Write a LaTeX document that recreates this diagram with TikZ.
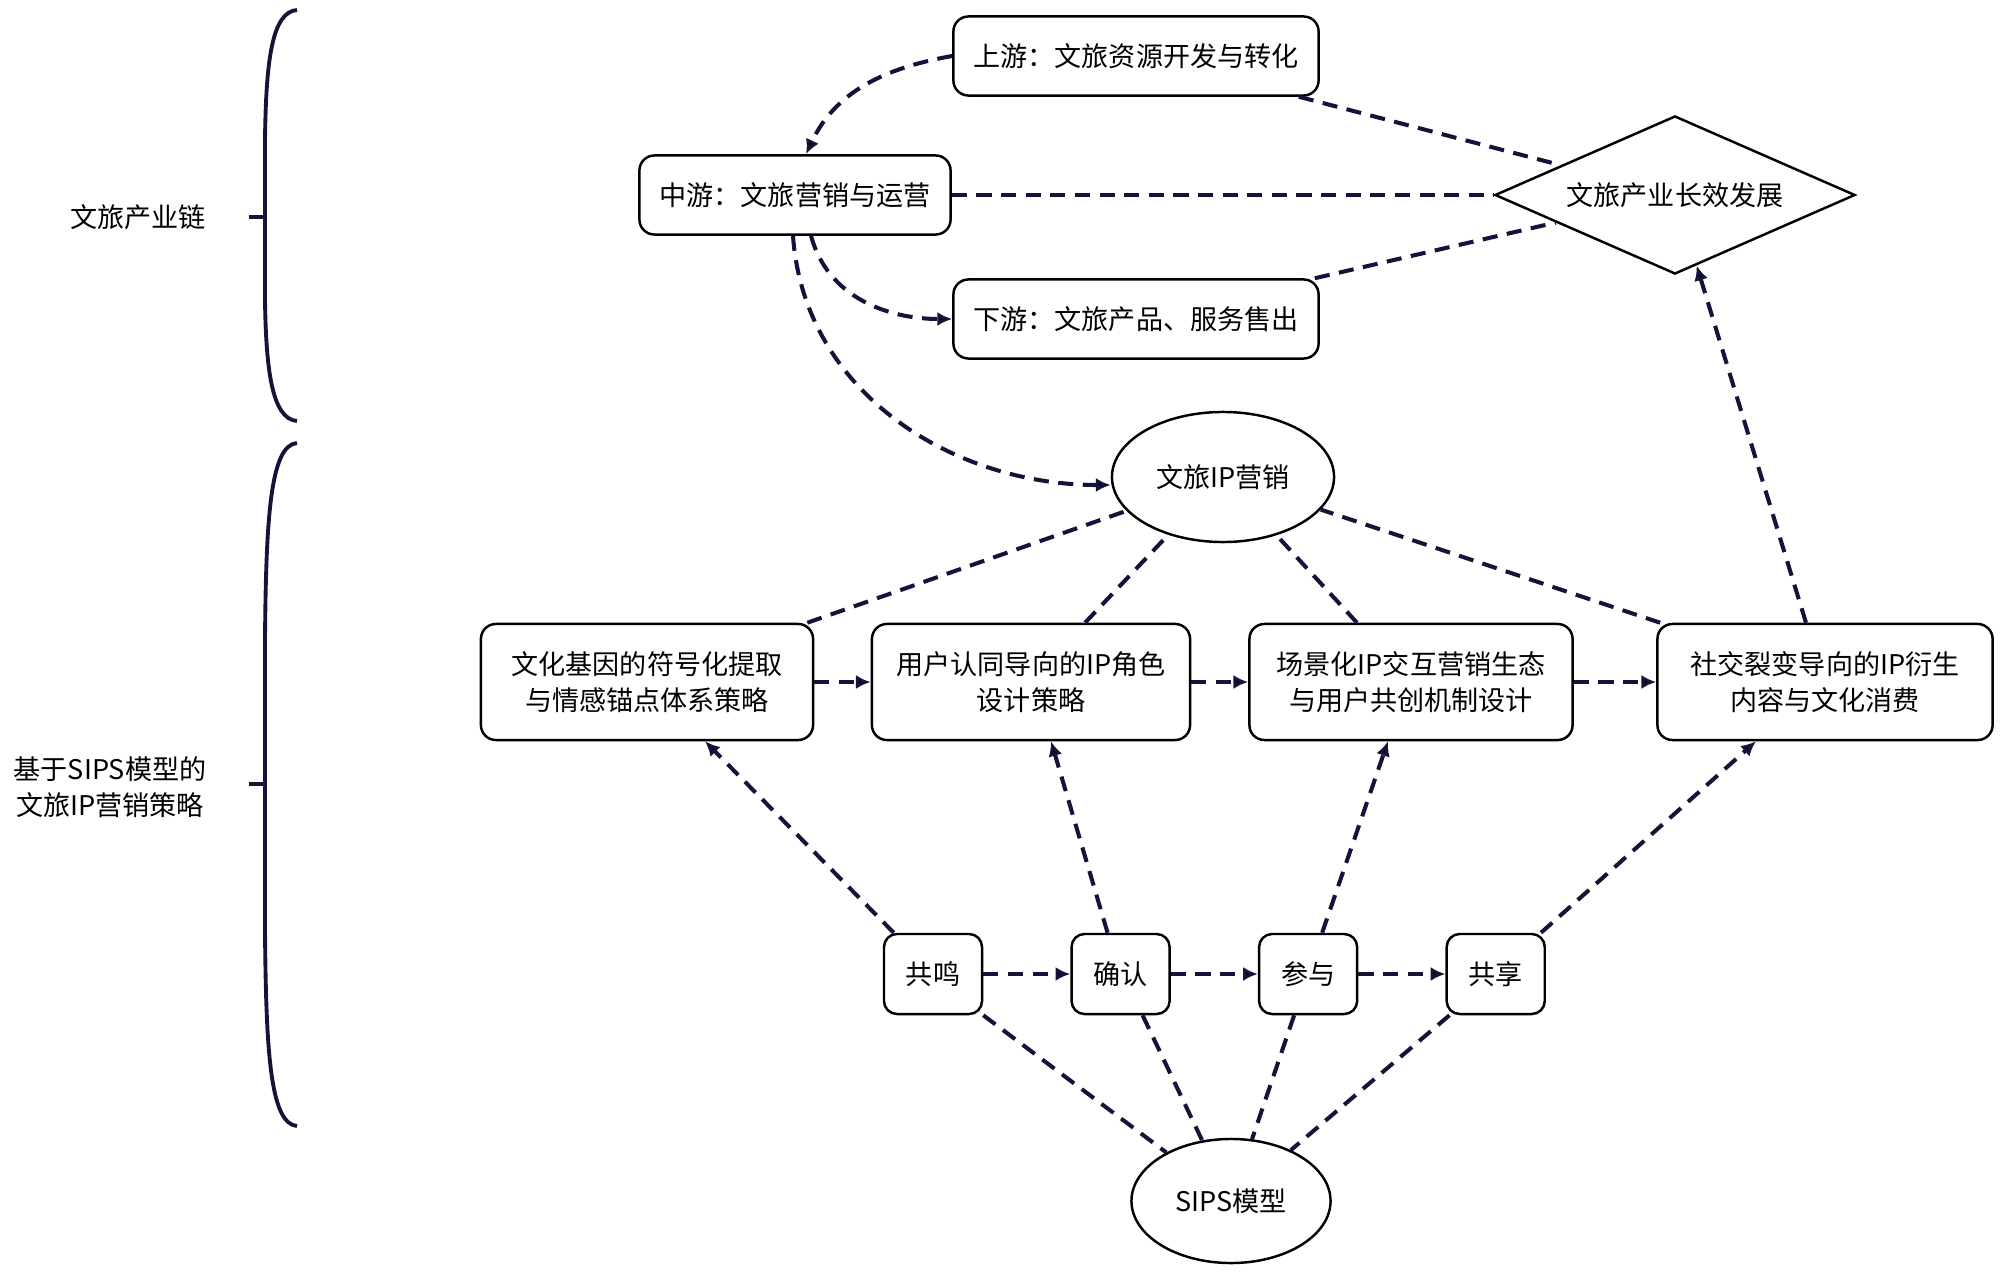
\documentclass[tikz,border=0pt]{standalone}
\usepackage{fontspec}
\setmainfont{Noto Sans CJK SC}
\usepackage{tikz}
\usetikzlibrary{positioning,shapes.geometric,arrows.meta}
\definecolor{navy}{HTML}{14143A}
\tikzset{box node/.style={rectangle, rounded corners=0.15cm, draw=black, line width=0.7pt, align=center, inner sep=2pt},
  chain step/.style={box node, minimum height=0.79cm},
  strategy node/.style={box node, minimum width=3.3cm, minimum height=1.16cm},
  stage node/.style={box node, minimum width=0.98cm, minimum height=0.8cm, rounded corners=0.13cm},
  round node/.style={ellipse, draw=black, line width=0.7pt, inner sep=1pt},
  goal node/.style={diamond, draw=black, line width=0.7pt, shape aspect=2.28, minimum width=3.6cm, minimum height=1.58cm, inner sep=0pt},
  link/.style={draw=navy, line width=1.15pt, dash pattern=on 4.3pt off 2.7pt},
  arr/.style={-{Latex[length=4.2pt,width=4pt]}},
  brace line/.style={draw=navy, line width=1.1pt},}

\begin{document}
\begin{tikzpicture}[x=0.01cm, y=0.01cm, font=\fontsize{7.7pt}{10.2pt}\selectfont]
        \useasboundingbox (0,0) rectangle (2000,-1276);
        % Braces
        \draw[brace line] (297,-10) .. controls (272,-12) and (266,-60) .. (265,-140) -- (265,-300) .. controls (266,-370) and (272,-419) .. (297,-421);
        \draw[brace line] (249,-217) -- (265,-217);
        \draw[brace line] (297,-443) .. controls (270,-445) and (266,-520) .. (265,-640) -- (265,-930) .. controls (266,-1050) and (270,-1124) .. (297,-1126);
        \draw[brace line] (249,-784) -- (265,-784);
        \node (chainlabel) at (138,-217) {文旅产业链};
        \node[align=center] (iplabel) at (110,-787) {基于SIPS模型的\\文旅IP营销策略};
        % Industry chain
        \node[chain step, minimum width=3.65cm] (up) at (1136,-56) {上游：文旅资源开发与转化};
        \node[chain step, minimum width=3.11cm] (mid) at (795,-195) {中游：文旅营销与运营};
        \node[chain step, minimum width=3.65cm] (down) at (1136,-319) {下游：文旅产品、服务售出};
        \node[goal node] (goal) at (1675,-195) {文旅产业长效发展};
        % IP marketing strategies
        \node[round node, minimum width=2.22cm, minimum height=1.3cm] (ip) at (1223,-477) {文旅IP营销};
        \node[strategy node, minimum width=3.32cm] (gene) at (647,-682) {文化基因的符号化提取\\与情感锚点体系策略};
        \node[strategy node, minimum width=3.18cm] (role) at (1031,-682) {用户认同导向的IP角色\\设计策略};
        \node[strategy node, minimum width=3.23cm] (scene) at (1411,-682) {场景化IP交互营销生态\\与用户共创机制设计};
        \node[strategy node, minimum width=3.35cm] (share) at (1825,-682) {社交裂变导向的IP衍生\\内容与文化消费};
        % SIPS stages
        \node[stage node] (s1) at (933,-974) {共鸣};
        \node[stage node] [right = 0.87cm of s1] (s2) {确认};
        \node[stage node] [right = 0.87cm of s2] (s3) {参与};
        \node[stage node] [right = 0.87cm of s3] (s4) {共享};
        \node[round node, minimum width=1.99cm, minimum height=1.24cm] (sips) at (1231,-1201) {SIPS模型};
        % Paths
        \path[link]
        (up.west) edge [arr, out=190, in=65] ([xshift=0.11cm]mid.north)
        ([xshift=0.16cm]mid.south) edge [arr, out=-75, in=180] (down.west)
        ([xshift=-0.02cm]mid.south) edge [arr, out=-86, in=180] ([yshift=-0.08cm]ip.west)
        (mid.east) edge (goal.west)
        ([xshift=-0.21cm]up.south east) edge (goal)
        ([xshift=-0.05cm]down.north east) edge (goal)
        ([xshift=-0.19cm]share.north) edge [arr] (goal)
        ([xshift=-0.07cm]gene.north east) edge (ip)
        ([xshift=0.54cm]role.north) edge (ip)
        ([xshift=-0.54cm]scene.north) edge (ip)
        ([xshift=0.04cm]share.north west) edge (ip)
        (gene) edge [arr] (role)
        (role) edge [arr] (scene)
        (scene) edge [arr] (share)
        ([xshift=0.11cm]s1.north west) edge [arr] ([xshift=0.58cm]gene.south)
        ([xshift=-0.13cm]s2.north) edge [arr] ([xshift=0.2cm]role.south)
        ([xshift=0.14cm]s3.north) edge [arr] ([xshift=-0.23cm]scene.south)
        ([xshift=-0.05cm]s4.north east) edge [arr] ([xshift=-0.69cm]share.south)
        (s1) edge [arr] (s2)
        (s2) edge [arr] (s3)
        (s3) edge [arr] (s4)
        (s1.south east) edge (sips)
        ([xshift=0.22cm]s2.south) edge (sips)
        ([xshift=-0.14cm]s3.south) edge (sips)
        ([xshift=0.04cm]s4.south west) edge (sips);
\end{tikzpicture}
\end{document}
